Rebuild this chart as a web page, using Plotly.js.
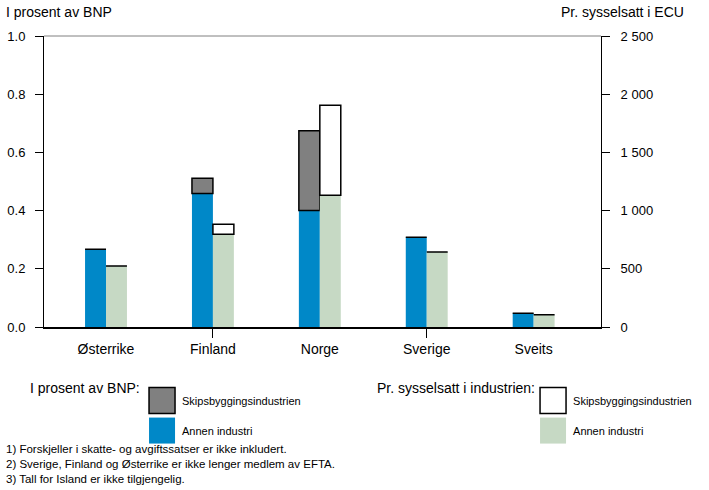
<!DOCTYPE html>
<html>
<head>
<meta charset="utf-8">
<script src="https://cdn.plot.ly/plotly-3.0.1.min.js"></script>
<style>
  html, body { margin: 0; padding: 0; background: #fff; }
  #chart { width: 709px; height: 490px; }
</style>
</head>
<body>
<div id="chart"></div>
<script>
// land og verdier lest av figuren
const land = ['Østerrike', 'Finland', 'Norge', 'Sverige', 'Sveits'];
// i prosent av BNP (venstre akse)
const bnpAnnen = [0.267, 0.459, 0.400, 0.308, 0.047];
const bnpSkips = [0, 0.052, 0.274, 0, 0];
// per sysselsatt i ECU (høyre akse)
const ecuAnnen = [524, 796, 1131, 644, 106];
const ecuSkips = [0, 86, 773, 0, 0];

const fotnoter = [
    '1) Forskjeller i skatte- og avgiftssatser er ikke inkludert.',
    '2) Sverige, Finland og Østerrike er ikke lenger medlem av EFTA.',
    '3) Tall for Island er ikke tilgjengelig.'
];

const blaa = '#0088c8';
const graa = '#808080';
const groenn = '#c6d9c4';
const barW = 0.196;
const fontName = 'Liberation Sans, Arial, sans-serif';

// x as index into land, labels come from land
const xPos = land.map((_, i) => i);

let data = [
    {
        type: 'bar', name: 'Annen industri', x: xPos, y: bnpAnnen,
        offset: -barW, width: barW, yaxis: 'y',
        marker: {color: blaa, line: {width: 0}},
        legend: 'legend', legendgroup: 'b1', legendrank: 2
    },
    {
        type: 'bar', name: 'Skipsbyggingsindustrien', x: xPos, y: bnpSkips, base: bnpAnnen,
        offset: -barW, width: barW, yaxis: 'y',
        marker: {color: graa, line: {color: '#000', width: 1.5}},
        legend: 'legend', legendgroup: 'b2', legendrank: 1
    },
    {
        type: 'bar', name: 'Annen industri', x: xPos, y: ecuAnnen,
        offset: 0, width: barW, yaxis: 'y2',
        marker: {color: groenn, line: {width: 0}},
        legend: 'legend2', legendgroup: 'e1', legendrank: 2
    },
    {
        type: 'bar', name: 'Skipsbyggingsindustrien', x: xPos, y: ecuSkips, base: ecuAnnen,
        offset: 0, width: barW, yaxis: 'y2',
        marker: {color: '#fff', line: {color: '#000', width: 1.5}},
        legend: 'legend2', legendgroup: 'e2', legendrank: 1
    }
];

let legendBase = {
    orientation: 'v',
    y: -0.203, yanchor: 'top',
    xanchor: 'left',
    font: {family: fontName, size: 11, color: '#000'},
    tracegroupgap: 11,
    bgcolor: 'rgba(0,0,0,0)',
    traceorder: 'grouped'
};

let layout = {
    width: 709,
    height: 490,
    margin: {l: 44, r: 108, t: 36, b: 163},
    paper_bgcolor: '#fff',
    plot_bgcolor: '#fff',
    font: {family: fontName, size: 13, color: '#000'},
    barmode: 'overlay',
    separators: '. ',
    showlegend: true,
    xaxis: {
        range: [-0.58, 4.63],
        tickvals: xPos, ticktext: land,
        showline: true, linecolor: '#000', linewidth: 2,
        ticks: '', ticklabelstandoff: 8,
        minor: {tickvals: [1, 3], ticks: 'outside', ticklen: 9, tickcolor: '#000', tickwidth: 1, showgrid: false},
        showgrid: false, zeroline: false,
        tickfont: {size: 14}
    },
    yaxis: {
        range: [0, 1.0], dtick: 0.2, tickformat: '.1f',
        showline: true, linecolor: '#000', linewidth: 1,
        ticks: 'outside', ticklen: 8, tickcolor: '#000',
        ticklabelstandoff: 7,
        showgrid: false, zeroline: false,
        tickfont: {size: 13}
    },
    yaxis2: {
        overlaying: 'y', side: 'right',
        range: [0, 2500], dtick: 500, separatethousands: true,
        showline: true, linecolor: '#000', linewidth: 1,
        ticks: 'outside', ticklen: 8, tickcolor: '#000',
        ticklabelstandoff: 8,
        showgrid: false, zeroline: false,
        tickfont: {size: 13}
    },
    legend: Object.assign({}, legendBase, {x: 0.176}),
    legend2: Object.assign({}, legendBase, {x: 0.878}),
    shapes: [{
        type: 'line', xref: 'paper', yref: 'paper',
        x0: 0, x1: 1, y0: 1, y1: 1,
        line: {color: graa, width: 1}
    }],
    annotations: [
        {
            text: 'I prosent av BNP', xref: 'paper', yref: 'paper',
            x: -0.071, y: 1.082, xanchor: 'left', yanchor: 'middle',
            showarrow: false, font: {size: 14}
        },
        {
            text: 'Pr. sysselsatt i ECU', xref: 'paper', yref: 'paper',
            x: 1.152, y: 1.082, xanchor: 'right', yanchor: 'middle',
            showarrow: false, font: {size: 14}
        },
        // legend headings
        {
            text: 'I prosent av BNP:', xref: 'paper', yref: 'paper',
            x: 0.176, y: -0.21, xanchor: 'right', yanchor: 'middle',
            showarrow: false, font: {size: 14}
        },
        {
            text: 'Pr. sysselsatt i industrien:', xref: 'paper', yref: 'paper',
            x: 0.885, y: -0.21, xanchor: 'right', yanchor: 'middle',
            showarrow: false, font: {size: 14}
        }
    ]
};

// fotnoter under figuren
fotnoter.forEach((t, i) => {
    layout.annotations.push({
        text: t, xref: 'paper', yref: 'paper',
        x: -0.071, y: -0.42 - i * 0.051,
        xanchor: 'left', yanchor: 'middle',
        showarrow: false, font: {size: 11.5}
    });
});

let config = {staticPlot: true};

Plotly.newPlot('chart', data, layout, config).then((gd) => {
    // bigger legend boxes, like the original
    gd.querySelectorAll('.legendpoints path').forEach((p) => {
        p.setAttribute('d', 'M13,13H-13V-13H13Z');
    });
});
</script>
</body>
</html>
